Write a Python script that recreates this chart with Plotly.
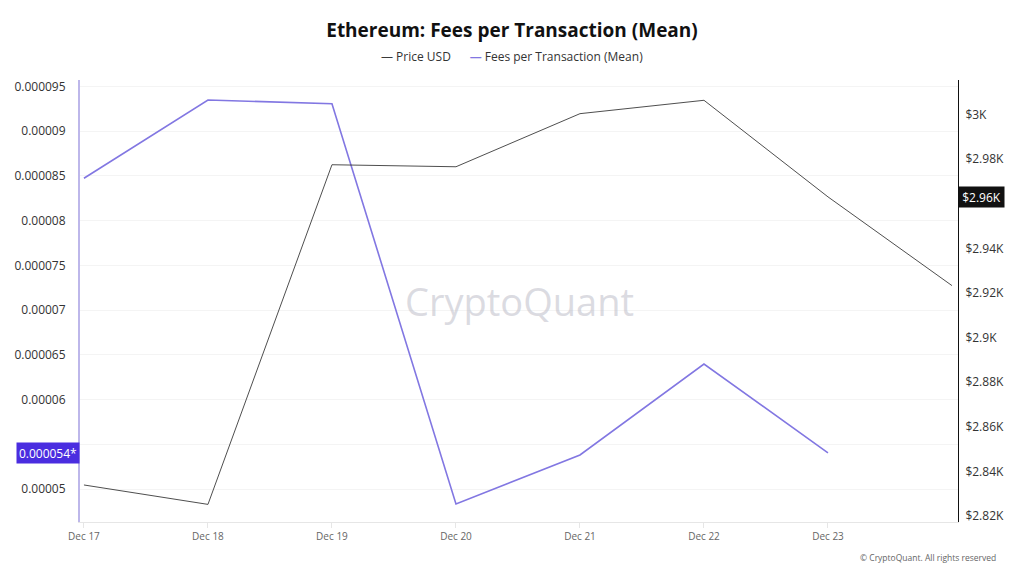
import plotly.graph_objects as go

# data
price_dates = ["2025-12-17", "2025-12-18", "2025-12-19", "2025-12-20",
               "2025-12-21", "2025-12-22", "2025-12-23", "2025-12-24"]
price_usd = [2833.9, 2825.2, 2977.5, 2976.6, 3000.4, 3006.4, 2963.1, 2923.3]

fee_dates = ["2025-12-17", "2025-12-18", "2025-12-19", "2025-12-20",
             "2025-12-21", "2025-12-22", "2025-12-23"]
fees_mean = [0.00008474, 0.00009349, 0.00009308, 0.00004832,
             0.0000538, 0.00006397, 0.00005405]

x_tick_vals = ["2025-12-17", "2025-12-18", "2025-12-19", "2025-12-20",
               "2025-12-21", "2025-12-22", "2025-12-23"]
x_tick_text = ["Dec 17", "Dec 18", "Dec 19", "Dec 20", "Dec 21", "Dec 22", "Dec 23"]

# 0.000055 sits under the last-value box, so its label is left blank
left_tick_vals = [0.00005, 0.000055, 0.00006, 0.000065, 0.00007, 0.000075,
                  0.00008, 0.000085, 0.00009, 0.000095]
left_tick_text = ["0.00005", "", "0.00006", "0.000065", "0.00007", "0.000075",
                  "0.00008", "0.000085", "0.00009", "0.000095"]

# $2.96K is covered by the price box
right_tick_vals = [2820, 2840, 2860, 2880, 2900, 2920, 2940, 2960, 2980, 3000]
right_tick_text = ["$2.82K", "$2.84K", "$2.86K", "$2.88K", "$2.9K", "$2.92K",
                   "$2.94K", "", "$2.98K", "$3K"]

FONT = "Open Sans"
FEE_COLOR = "#8277e2"
PRICE_COLOR = "#3a3a3a"

fig = go.Figure()

fig.add_trace(go.Scatter(
    name="Price USD", x=price_dates, y=price_usd, yaxis="y2",
    mode="lines", line=dict(color=PRICE_COLOR, width=0.9),
))
fig.add_trace(go.Scatter(
    name="Fees per Transaction (Mean)", x=fee_dates, y=fees_mean, yaxis="y",
    mode="lines", line=dict(color=FEE_COLOR, width=1.6),
))

# last value boxes on the axes
last_price = price_usd[len(fee_dates) - 1]
fig.add_annotation(
    xref="paper", yref="y", x=0, y=fees_mean[-1], xanchor="right", yanchor="middle",
    text=f"{fees_mean[-1]:.6f}*", showarrow=False, width=60, height=18,
    font=dict(family=FONT, size=12, color="white"),
    bgcolor="#4a2de0", borderpad=1,
)
fig.add_annotation(
    xref="paper", yref="y2", x=1, y=last_price, xanchor="left", yanchor="middle",
    text=f"${last_price / 1000:.2f}K", showarrow=False, width=43, height=18,
    font=dict(family=FONT, size=12, color="white"),
    bgcolor="#111111", borderpad=1,
)

# legend drawn as a text line (short dashes like the original)
fig.add_annotation(
    xref="paper", yref="paper", x=(512 - 80) / 878, y=(522 - 57) / 442,
    xanchor="center", yanchor="middle", showarrow=False,
    text=(f'<span style="color:{PRICE_COLOR}">—</span> Price USD'
          f'      <span style="color:{FEE_COLOR}"><b>—</b></span> Fees per Transaction (Mean)'),
    font=dict(family=FONT, size=12, color="#333333"),
)

# watermark + copyright
fig.add_annotation(
    xref="paper", yref="paper", x=0.5, y=0.5, text="CryptoQuant", showarrow=False,
    font=dict(family=FONT, size=38, color="rgba(195,195,205,0.6)"),
)
fig.add_annotation(
    xref="paper", yref="paper", x=1.0456, y=-0.0814, xanchor="right", yanchor="middle",
    text="© CryptoQuant. All rights reserved", showarrow=False,
    font=dict(family=FONT, size=8.5, color="#666666"),
)

# page body has an 8px margin, so the figure is 8px smaller and placed at (8, 8)
fig.update_layout(
    width=1016, height=568,
    margin=dict(l=72, r=66, t=72, b=54),
    paper_bgcolor="white", plot_bgcolor="white",
    font=dict(family=FONT, color="#333333"),
    title=dict(
        text="<b>Ethereum: Fees per Transaction (Mean)</b>",
        x=(512 - 8) / 1016, xanchor="center", y=1 - 22 / 568, yanchor="middle", yref="container",
        font=dict(family=FONT, size=19, color="#111111"),
    ),
    showlegend=False,
    xaxis=dict(
        type="date", automargin=False,
        range=["2025-12-16 23:14", "2025-12-24 01:10"],
        tickvals=x_tick_vals, ticktext=x_tick_text,
        showgrid=False, showline=True, linecolor="#e6e6e6", linewidth=1,
        ticks="outside", ticklen=5, tickcolor="#e6e6e6",
        tickfont=dict(family=FONT, size=10, color="#666666"),
        zeroline=False,
    ),
    yaxis=dict(
        automargin=False,
        range=[0.00004631, 0.00009573],
        tickvals=left_tick_vals, ticktext=left_tick_text,
        showgrid=True, gridcolor="#f4f4f4", gridwidth=1,
        showline=True, linecolor="#bdb7ea", linewidth=2,
        tickfont=dict(family=FONT, size=12, color="#333333"),
        ticks="", ticklabelstandoff=10, zeroline=False,
    ),
    yaxis2=dict(
        overlaying="y", side="right", automargin=False,
        range=[2817.3, 3015.5],
        tickvals=right_tick_vals, ticktext=right_tick_text,
        showgrid=False, showline=True, linecolor="#111111", linewidth=1,
        tickfont=dict(family=FONT, size=12, color="#333333"),
        ticks="", ticklabelstandoff=4, zeroline=False,
    ),
)

fig.write_html("out.html")
